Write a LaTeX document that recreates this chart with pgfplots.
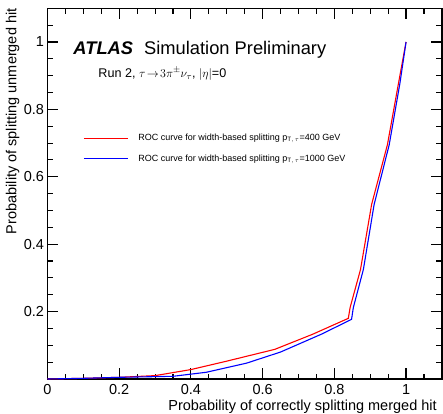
\documentclass[border=0pt]{standalone}
\usepackage{fontspec}
\setmainfont{Liberation Sans}
\usepackage{pgfplots}
\pgfplotsset{compat=1.18}
\begin{document}
\begin{tikzpicture}
\path[use as bounding box] (-47.5bp,-35bp) rectangle (395.5bp,379bp);
\begin{axis}[
  scale only axis,
  width=394.4bp, height=370.7bp,
  at={(0,0)}, anchor=south west,
  xmin=0, xmax=1.1, ymin=0, ymax=1.1,
  axis line style={line width=1.3bp},
  tick style={line width=1.1bp, black},
  tick align=inside,
  xtick pos=both, ytick pos=both,
  xtick={0,0.2,0.4,0.6,0.8,1},
  xticklabels={0,0.2,0.4,0.6,0.8,1},
  ytick={0,0.2,0.4,0.6,0.8,1},
  yticklabels={,0.2,0.4,0.6,0.8,1},
  minor xtick={0.05,0.1,0.15,0.25,0.3,0.35,0.45,0.5,0.55,0.65,0.7,0.75,0.85,0.9,0.95,1.05},
  minor ytick={0.05,0.1,0.15,0.25,0.3,0.35,0.45,0.5,0.55,0.65,0.7,0.75,0.85,0.9,0.95,1.05},
  major tick length=11bp,
  minor tick length=5.5bp,
  tick label style={font=\fontsize{14.5bp}{16bp}\selectfont},
  xticklabel style={yshift=-2bp},
  xlabel={Probability of correctly splitting merged hit},
  ylabel={Probability of splitting unmerged hit},
  label style={font=\fontsize{14.5bp}{16bp}\selectfont, inner sep=0pt},
  xlabel style={at={(axis description cs:1,0)}, anchor=north east, xshift=-5bp, yshift=-20.5bp},
  ylabel style={at={(axis description cs:0,1)}, anchor=south east, yshift=28bp},
  legend style={at={(axis description cs:0.09,0.661)}, anchor=north west, draw=none, fill=none,
    font=\fontsize{9bp}{10bp}\selectfont, row sep=12.5bp, inner sep=0pt,
    nodes={inner sep=0pt}},
  legend cell align=left,
  legend image code/.code={\draw[#1] (0bp,0bp) -- (44bp,0bp);},
  legend columns=1,
  /tikz/every odd column/.append style={column sep=10bp},
]
\addlegendimage{draw=red, line width=1.2bp}
\addlegendentry{ROC curve for width-based splitting p$_{\mathrm{T},\,\tau}$=400 GeV}
\addlegendimage{draw=blue, line width=1.2bp}
\addlegendentry{ROC curve for width-based splitting p$_{\mathrm{T},\,\tau}$=1000 GeV}
\addplot[red, line width=1.1bp, forget plot] coordinates {
(0,0) (0.1,0.002) (0.2,0.005) (0.3,0.010) (0.4,0.028) (0.5,0.053) (0.634,0.088) (0.74,0.133) (0.839,0.18) (0.844,0.212) (0.873,0.325) (0.904,0.518) (0.948,0.695) (0.979,0.878) (1.0,1.0)
};
\addplot[blue, line width=1.1bp, forget plot] coordinates {
(0,0) (0.1,0.002) (0.2,0.005) (0.35,0.008) (0.443,0.02) (0.555,0.047) (0.65,0.08) (0.764,0.133) (0.848,0.177) (0.853,0.212) (0.881,0.325) (0.911,0.518) (0.953,0.695) (0.983,0.878) (1.0,1.0)
};
\node[anchor=base west, inner sep=0pt, font=\fontsize{18.3bp}{20bp}\selectfont] at (axis description cs:0.0654,0.8767) {\textbf{\textit{ATLAS}}\hspace{6bp} Simulation Preliminary};
\node[anchor=base west, inner sep=0pt, font=\fontsize{12.6bp}{14bp}\selectfont] at (axis description cs:0.1288,0.8139) {Run 2, $\tau\!\rightarrow\!3\pi^{\pm}\nu_{\tau}$, $|\eta|$=0};
\end{axis}
\end{tikzpicture}
\end{document}
